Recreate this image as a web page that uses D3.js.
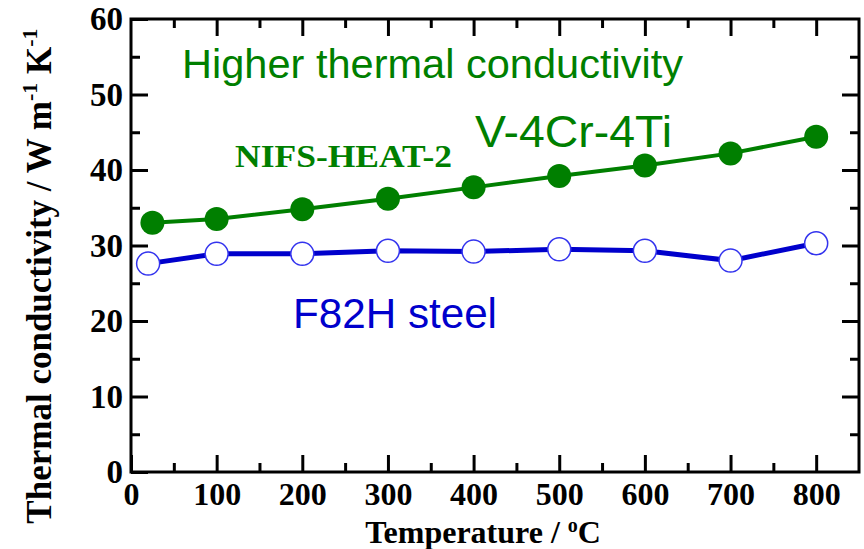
<!DOCTYPE html>
<html>
<head>
<meta charset="utf-8">
<script src="https://cdn.jsdelivr.net/npm/d3@7"></script>
<style>
  body { margin: 0; background: #fff; }
  .tick text { font-family: "Liberation Serif", "Times New Roman", serif; font-weight: bold; }
</style>
</head>
<body>
<div id="chart-area"></div>
<script>
// data
var vTemps = [25, 100, 200, 300, 400, 500, 600, 700, 800];
var vCond = [33.0, 33.5, 34.8, 36.2, 37.7, 39.2, 40.6, 42.2, 44.4];   // V-4Cr-4Ti
var fTemps = [20, 100, 200, 300, 400, 500, 600, 700, 800];
var fCond = [27.6, 28.9, 28.9, 29.3, 29.2, 29.5, 29.3, 28.0, 30.3];   // F82H steel
var xTicks = [0, 100, 200, 300, 400, 500, 600, 700, 800];
var yTicks = [0, 10, 20, 30, 40, 50, 60];

var W = 864, H = 549;
var margin = {left: 131, top: 19, right: 5, bottom: 77};
var width = W - margin.left - margin.right,
    height = H - margin.top - margin.bottom;

var svg = d3.select("#chart-area").append("svg")
  .attr("width", W).attr("height", H);
var g = svg.append("g")
  .attr("transform", "translate(" + margin.left + "," + margin.top + ")");

var x = d3.scaleLinear().domain([0, 850]).range([0, width]);
var y = d3.scaleLinear().domain([0, 60]).range([height, 0]);

var minorX = d3.range(50, 850, 100);
var minorY = d3.range(5, 60, 10);

// ticks pointing inward on every side
function styleAxis(sel) {
  sel.select(".domain").remove();
  sel.selectAll("line").attr("stroke", "#000").attr("stroke-width", 3);
}

g.append("g").attr("transform", "translate(0," + height + ")")
  .call(d3.axisBottom(x).tickValues(xTicks).tickSizeInner(-17).tickSizeOuter(0).tickPadding(10))
  .call(styleAxis)
  .selectAll("text").attr("font-size", 32).attr("fill", "#000");
g.append("g").attr("transform", "translate(0," + height + ")")
  .call(d3.axisBottom(x).tickValues(minorX).tickSizeInner(-9).tickSizeOuter(0).tickFormat(""))
  .call(styleAxis);
g.append("g")
  .call(d3.axisTop(x).tickValues(xTicks.slice(1)).tickSizeInner(-17).tickSizeOuter(0).tickFormat(""))
  .call(styleAxis);
g.append("g")
  .call(d3.axisTop(x).tickValues(minorX).tickSizeInner(-9).tickSizeOuter(0).tickFormat(""))
  .call(styleAxis);

g.append("g")
  .call(d3.axisLeft(y).tickValues(yTicks).tickSizeInner(-17).tickSizeOuter(0).tickPadding(8))
  .call(styleAxis)
  .selectAll("text").attr("font-size", 33).attr("fill", "#000");
g.append("g")
  .call(d3.axisLeft(y).tickValues(minorY).tickSizeInner(-9).tickSizeOuter(0).tickFormat(""))
  .call(styleAxis);
g.append("g").attr("transform", "translate(" + width + ",0)")
  .call(d3.axisRight(y).tickValues(yTicks.slice(1, -1)).tickSizeInner(-17).tickSizeOuter(0).tickFormat(""))
  .call(styleAxis);
g.append("g").attr("transform", "translate(" + width + ",0)")
  .call(d3.axisRight(y).tickValues(minorY).tickSizeInner(-9).tickSizeOuter(0).tickFormat(""))
  .call(styleAxis);

// frame
g.append("rect")
  .attr("x", 0).attr("y", 0).attr("width", width).attr("height", height)
  .attr("fill", "none").attr("stroke", "#000").attr("stroke-width", 3);

// series
var green = "#007f00", blue = "#0000cc";

var line = d3.line().x(function(d){ return x(d[0]); }).y(function(d){ return y(d[1]); });
var vData = vTemps.map(function(t, i){ return [t, vCond[i]]; });
var fData = fTemps.map(function(t, i){ return [t, fCond[i]]; });

g.append("path").datum(fData).attr("d", line)
  .attr("fill", "none").attr("stroke", blue).attr("stroke-width", 5);
g.append("path").datum(vData).attr("d", line)
  .attr("fill", "none").attr("stroke", green).attr("stroke-width", 4);

g.selectAll(".vpt").data(vData).enter().append("circle")
  .attr("class", "vpt")
  .attr("cx", function(d){ return x(d[0]); })
  .attr("cy", function(d){ return y(d[1]); })
  .attr("r", 12).attr("fill", green);
g.selectAll(".fpt").data(fData).enter().append("circle")
  .attr("class", "fpt")
  .attr("cx", function(d){ return x(d[0]); })
  .attr("cy", function(d){ return y(d[1]); })
  .attr("r", 11.5).attr("fill", "#fff").attr("stroke", "#3333ee").attr("stroke-width", 1.5);

// annotations
svg.append("text").attr("x", 182).attr("y", 78)
  .attr("font-family", "Liberation Sans, Arial, sans-serif").attr("font-size", 41)
  .attr("fill", green).attr("textLength", 501).attr("lengthAdjust", "spacingAndGlyphs")
  .text("Higher thermal conductivity");
svg.append("text").attr("x", 475).attr("y", 147)
  .attr("font-family", "Liberation Sans, Arial, sans-serif").attr("font-size", 45)
  .attr("fill", green).attr("textLength", 197).attr("lengthAdjust", "spacingAndGlyphs")
  .text("V-4Cr-4Ti");
svg.append("text").attr("x", 235).attr("y", 167)
  .attr("font-family", "Liberation Serif, Times New Roman, serif").attr("font-weight", "bold")
  .attr("font-size", 32).attr("fill", green)
  .attr("textLength", 217).attr("lengthAdjust", "spacingAndGlyphs")
  .text("NIFS-HEAT-2");
svg.append("text").attr("x", 293).attr("y", 328)
  .attr("font-family", "Liberation Sans, Arial, sans-serif").attr("font-size", 43)
  .attr("fill", blue).attr("textLength", 204).attr("lengthAdjust", "spacingAndGlyphs")
  .text("F82H steel");

// axis titles
var xt = svg.append("text").attr("x", 483).attr("y", 543)
  .attr("text-anchor", "middle")
  .attr("font-family", "Liberation Serif, Times New Roman, serif").attr("font-weight", "bold")
  .attr("font-size", 32).attr("fill", "#000");
xt.append("tspan").text("Temperature / ");
xt.append("tspan").attr("dy", -11).attr("font-size", 20).text("o");
xt.append("tspan").attr("dy", 11).text("C");

var yt = svg.append("text")
  .attr("transform", "translate(51," + 276 + ") rotate(-90)")
  .attr("text-anchor", "middle")
  .attr("font-family", "Liberation Serif, Times New Roman, serif").attr("font-weight", "bold")
  .attr("font-size", 35).attr("fill", "#000");
yt.append("tspan").text("Thermal conductivity / W m");
yt.append("tspan").attr("dy", -14).attr("font-size", 22).text("-1");
yt.append("tspan").attr("dy", 14).text(" K");
yt.append("tspan").attr("dy", -14).attr("font-size", 22).text("-1");
</script>
</body>
</html>
